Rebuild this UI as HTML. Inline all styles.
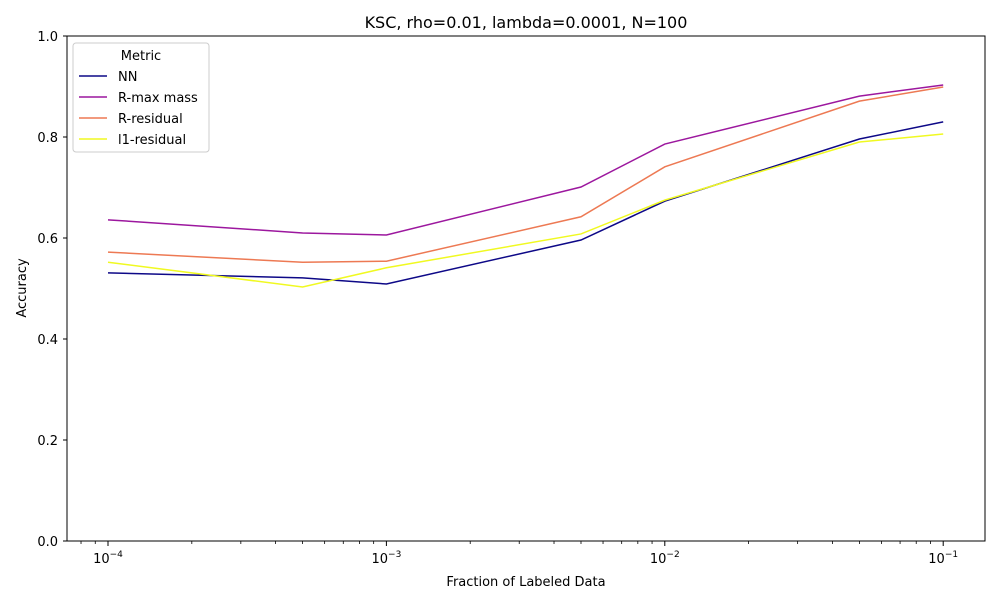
<!DOCTYPE html>
<html><head><meta charset="utf-8"><style>
body{margin:0;background:#fff;font-family:"Liberation Sans","DejaVu Sans",sans-serif;}
svg text{font-family:"DejaVu Sans","Liberation Sans",sans-serif;}
</style></head><body>
<svg id="chart" width="1000" height="600" xmlns="http://www.w3.org/2000/svg">
<rect width="1000" height="600" fill="#fff"/>
<text x="526" y="28" font-size="16" text-anchor="middle">KSC, rho=0.01, lambda=0.0001, N=100</text>
<g id="axes"></g>
<g id="series"></g>
<rect x="67" y="36" width="918" height="505" fill="none" stroke="#000" stroke-width="1"/>
<text x="526" y="586" font-size="13" text-anchor="middle">Fraction of Labeled Data</text>
<text transform="translate(26,288) rotate(-90)" font-size="13" text-anchor="middle">Accuracy</text>
<g id="legend"></g>
</svg>
<script>
const xValues=[1e-4,5e-4,1e-3,5e-3,1e-2,5e-2,1e-1];
const seriesNames=["NN","R-max mass","R-residual","l1-residual"];
const seriesColors=["#0d0887","#9c179e","#ed7953","#f0f921"];
const nnValues=[0.531,0.521,0.509,0.596,0.673,0.796,0.830];
const rmaxValues=[0.636,0.610,0.606,0.701,0.786,0.881,0.903];
const rresValues=[0.572,0.552,0.554,0.642,0.741,0.871,0.899];
const l1Values=[0.552,0.503,0.541,0.608,0.675,0.790,0.806];
const yTicks=[0,0.2,0.4,0.6,0.8,1.0];
const xMajorExps=[-4,-3,-2,-1];
const NS="http://www.w3.org/2000/svg";
const allSeries=[nnValues,rmaxValues,rresValues,l1Values];
function xs(v){return 108+(Math.log10(v)+4)*278.4;}
function ys(v){return 541-v*505;}
function mk(t,a,p){const e=document.createElementNS(NS,t);for(const k in a)e.setAttribute(k,a[k]);p.appendChild(e);return e;}
const axes=document.getElementById('axes');
yTicks.forEach(t=>{
  const l=mk('line',{x1:63,x2:67,y1:ys(t),y2:ys(t),stroke:'#000'},axes);
  
  
  const tx=mk('text',{x:58,y:ys(t)+5,'font-size':13,'text-anchor':'end'},axes);
  
  
  tx.textContent=t.toFixed(1);
});
xMajorExps.forEach(e=>{
  const x=xs(Math.pow(10,e));
  const l=mk('line',{x1:x,x2:x,y1:541,y2:546,stroke:'#000'},axes);
  
  
  const tx=mk('text',{x:x,y:563,'font-size':13,'text-anchor':'middle'},axes);
  
  
  tx.innerHTML='10<tspan dy="-6" font-size="9">−'+(-e)+'</tspan>';
});
for(let e=-5;e<=-1;e++){for(let m=2;m<=9;m++){
  const x=xs(m*Math.pow(10,e));
  if(x<67||x>985)continue;
  const l=mk('line',{x1:x,x2:x,y1:541,y2:544,stroke:'#000','stroke-width':0.8},axes);
  
  
}}
const sg=document.getElementById('series');
allSeries.forEach((vals,i)=>{
  const p=mk('polyline',{points:vals.map((v,j)=>xs(xValues[j])+','+ys(v)).join(' '),fill:'none',stroke:seriesColors[i],'stroke-width':1.5},sg);
  
  
});
const lg=document.getElementById('legend');
mk('rect',{x:73,y:43,width:136,height:109,rx:3,fill:'#fff','fill-opacity':0.8,stroke:'#ccc'},lg);
const lt=mk('text',{x:141,y:60,'font-size':13,'text-anchor':'middle'},lg);


lt.textContent='Metric';
seriesNames.forEach((n,i)=>{
  const y=76+i*21;
  const l=mk('line',{x1:79,x2:107,y1:y,y2:y,stroke:seriesColors[i],'stroke-width':1.5},lg);
  
  
  const t=mk('text',{x:118,y:y+5,'font-size':13},lg);
  
  
  t.textContent=n;
});
</script>
</body></html>
